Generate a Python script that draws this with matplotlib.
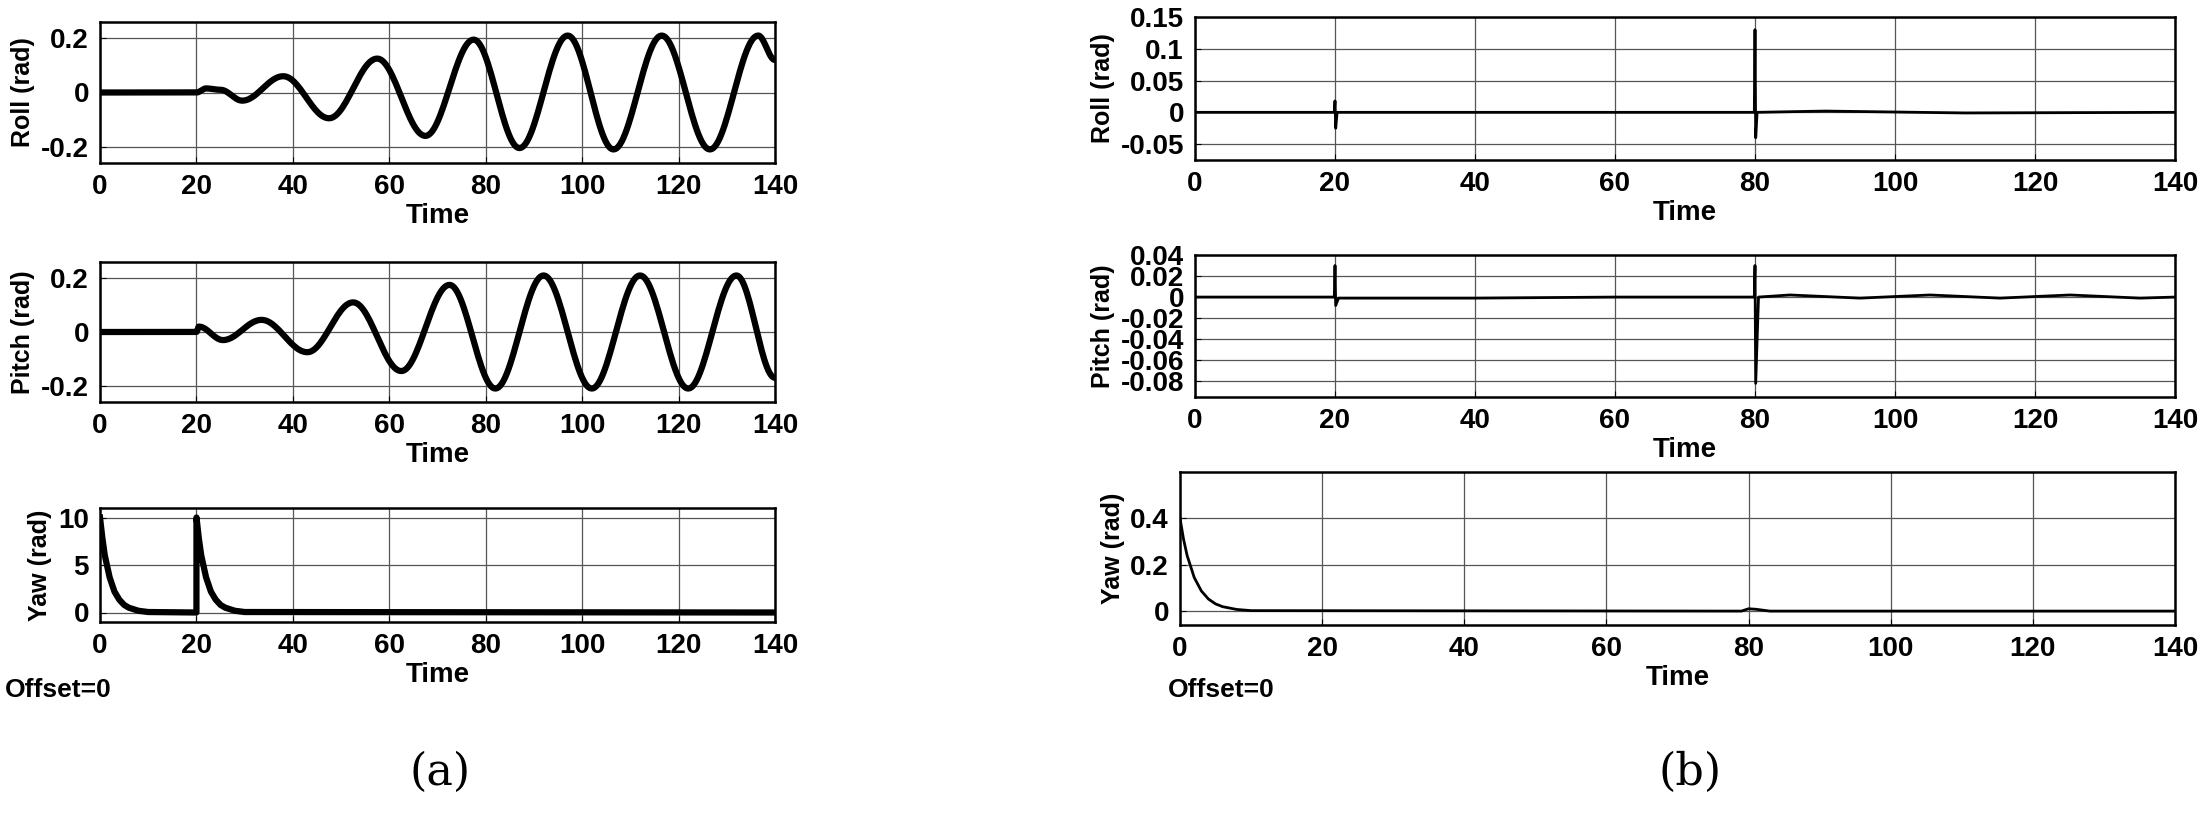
import numpy as np
import matplotlib
matplotlib.use('Agg')
import matplotlib.pyplot as plt

plt.rcParams['font.family'] = ['Liberation Sans', 'DejaVu Sans']
plt.rcParams['font.weight'] = 'bold'

# (a) roll / pitch: extrema (time, value)
roll_a_t = [0, 20, 22, 25, 29.5, 38, 47.5, 57.5, 67.5, 77.5, 87, 97, 106.5, 116.5, 126.5, 136.5, 140]
roll_a_v = [0, 0, 0.015, 0.01, -0.03, 0.06, -0.095, 0.125, -0.16, 0.195, -0.205, 0.21, -0.21, 0.21, -0.21, 0.21, 0.12]
pitch_a_t = [0, 20, 20.5, 25.5, 33.5, 43, 52.5, 62.5, 72.5, 82, 92, 102, 112, 122, 132, 140]
pitch_a_v = [0, 0, 0.02, -0.03, 0.045, -0.075, 0.11, -0.145, 0.175, -0.21, 0.21, -0.21, 0.21, -0.21, 0.21, -0.17]
yaw_a_t = [0, 0.5, 1, 2, 3, 4, 5, 6, 8, 10, 20, 20.01, 20.5, 21, 22, 23, 24, 25, 26, 28, 30, 140]
yaw_a_v = [10, 7.8, 6.0, 3.7, 2.2, 1.35, 0.8, 0.5, 0.18, 0.05, 0, 10, 7.8, 6.0, 3.7, 2.2, 1.35, 0.8, 0.5, 0.18, 0.05, 0]

# (b) spikes and small drifts
roll_b_t = [0, 19.9, 20, 20.1, 20.3, 79.9, 80, 80.1, 80.3, 90, 110, 140]
roll_b_v = [0, 0, 0.018, -0.025, 0, 0, 0.13, -0.04, 0, 0.002, -0.001, 0]
pitch_b_t = [0, 19.9, 20, 20.1, 20.5, 40, 60, 79.9, 80, 80.1, 80.5, 85, 95, 105, 115, 125, 135, 140]
pitch_b_v = [0, 0, 0.03, -0.008, -0.001, -0.001, 0, 0, 0.03, -0.082, 0, 0.002, -0.001, 0.002, -0.001, 0.002, -0.001, 0]
yaw_b_t = [0, 0.5, 1, 2, 3, 4, 5, 6, 8, 10, 79, 80, 81, 83, 140]
yaw_b_v = [0.4, 0.31, 0.24, 0.145, 0.087, 0.052, 0.031, 0.019, 0.007, 0.002, 0, 0.01, 0.008, 0, 0]


def smooth(t, v):
    # cosine half-waves between consecutive read points
    xs, ys = [], []
    for i in range(len(t) - 1):
        s = np.linspace(0, 1, 30)
        w = (1 - np.cos(np.pi * s)) / 2
        xs.append(t[i] + (t[i + 1] - t[i]) * s)
        ys.append(v[i] + (v[i + 1] - v[i]) * w)
    return np.concatenate(xs), np.concatenate(ys)


W, H = 2205, 823
fig = plt.figure(figsize=(W / 100, H / 100), dpi=100)


def panel(px, ylabel, ylim, yticks, yticklabels, x, y, lw, smooth_it=True):
    l, t, r, b = px
    ax = fig.add_axes([l / W, 1 - b / H, (r - l) / W, (b - t) / H])
    if smooth_it:
        x, y = smooth(x, y)
    ax.plot(x, y, color='black', lw=lw)
    ax.set_xlim(0, 140)
    ax.set_ylim(*ylim)
    ax.set_xticks(range(0, 141, 20))
    ax.set_yticks(yticks)
    ax.set_yticklabels(yticklabels)
    ax.grid(True, color='#555555', lw=0.9)
    ax.tick_params(labelsize=20, length=4, direction='in', pad=8)
    for s in ax.spines.values():
        s.set_linewidth(1.8)
    ax.set_ylabel(ylabel, fontsize=18, fontweight='bold', labelpad=4)
    ax.set_xlabel('Time', fontsize=20, fontweight='bold', labelpad=2)
    return ax


panel((100, 22, 775, 163), 'Roll (rad)', (-0.26, 0.26), [-0.2, 0, 0.2], ['-0.2', '0', '0.2'],
      roll_a_t, roll_a_v, 4.5)
panel((100, 262, 775, 402), 'Pitch (rad)', (-0.26, 0.26), [-0.2, 0, 0.2], ['-0.2', '0', '0.2'],
      pitch_a_t, pitch_a_v, 4.5)
panel((100, 508, 775, 622), 'Yaw (rad)', (-1, 11), [0, 5, 10], ['0', '5', '10'],
      yaw_a_t, yaw_a_v, 4.5, smooth_it=False)

panel((1195, 17, 2175, 160), 'Roll (rad)', (-0.075, 0.15), [-0.05, 0, 0.05, 0.1, 0.15],
      ['-0.05', '0', '0.05', '0.1', '0.15'], roll_b_t, roll_b_v, 2, smooth_it=False)
panel((1195, 255, 2175, 397), 'Pitch (rad)', (-0.095, 0.04), np.arange(-0.08, 0.041, 0.02),
      ['-0.08', '-0.06', '-0.04', '-0.02', '0', '0.02', '0.04'], pitch_b_t, pitch_b_v, 2, smooth_it=False)
panel((1180, 472, 2175, 625), 'Yaw (rad)', (-0.06, 0.6), [0, 0.2, 0.4], ['0', '0.2', '0.4'],
      yaw_b_t, yaw_b_v, 2, smooth_it=False)

fig.text(5 / W, 1 - 690 / H, 'Offset=0', fontsize=19, fontweight='bold', va='center')
fig.text(1168 / W, 1 - 690 / H, 'Offset=0', fontsize=19, fontweight='bold', va='center')

fig.text(440 / W, 1 - 772 / H, '(a)', fontsize=32, family='DejaVu Serif', weight='normal', ha='center', va='center')
fig.text(1690 / W, 1 - 772 / H, '(b)', fontsize=32, family='DejaVu Serif', weight='normal', ha='center', va='center')

fig.savefig('out.png', dpi=100)
